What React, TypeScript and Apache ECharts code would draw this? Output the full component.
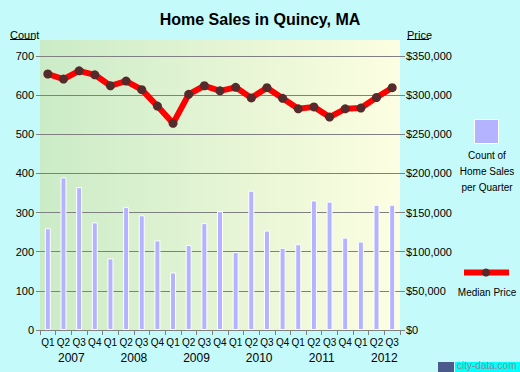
import React, { useEffect, useRef } from "react";
import * as echarts from "echarts";

const quarters = [
  "Q1", "Q2", "Q3", "Q4",
  "Q1", "Q2", "Q3", "Q4",
  "Q1", "Q2", "Q3", "Q4",
  "Q1", "Q2", "Q3", "Q4",
  "Q1", "Q2", "Q3", "Q4",
  "Q1", "Q2", "Q3",
];
const years = ["2007", "2008", "2009", "2010", "2011", "2012"];
const yearStartIndex = [0, 4, 8, 12, 16, 20];
const salesCount = [
  260, 390, 365, 275, 183, 314, 293, 229, 147, 217, 273, 304,
  199, 356, 254, 210, 219, 331, 328, 236, 226, 320, 320,
];
const medianPrice = [
  327000, 320500, 331000, 326000, 312000, 318000, 307000, 286000, 264000,
  301000, 312000, 305500, 310000, 296500, 309500, 296000, 282500, 285000,
  272000, 282500, 283500, 297000, 309500,
];
const countMax = 700;
const countInterval = 100;
const priceMax = 350000;
const priceInterval = 50000;

const FONT = "Liberation Sans, Arial, sans-serif";

export default function App() {
  const ref = useRef<HTMLDivElement>(null);
  useEffect(() => {
    document.body.style.margin = "0";
    if (!ref.current) return;
    const chart = echarts.init(ref.current, undefined, { renderer: "svg" });
    const yearCenters = yearStartIndex.map((s) => s + 2);
    chart.setOption({
      animation: false,
      backgroundColor: "#C4FAFA",
      textStyle: { fontFamily: FONT },
      title: {
        text: "Home Sales in Quincy, MA",
        left: "center",
        top: 6,
        textStyle: { fontSize: 16, fontWeight: "bold", color: "#000", fontFamily: FONT },
      },
      grid: { left: 40, right: 120, top: 56, bottom: 42, containLabel: false },
      xAxis: [
        {
          type: "category",
          data: quarters,
          boundaryGap: true,
          axisLine: { show: true, lineStyle: { color: "#808080", width: 1 } },
          axisTick: { show: true, length: 5, interval: 0, lineStyle: { color: "#808080" } },
          axisLabel: { interval: 0, fontSize: 10, color: "#000", margin: 7, fontFamily: FONT },
          splitLine: { show: false },
        },
        {
          type: "value",
          min: 0,
          max: quarters.length,
          position: "bottom",
          offset: 14,
          axisLine: { show: false },
          axisTick: { show: false },
          splitLine: { show: false },
          axisLabel: {
            customValues: yearCenters,
            fontSize: 12,
            color: "#000",
            margin: 8,
            fontFamily: FONT,
            formatter: (v: number) => {
              const i = yearCenters.indexOf(v);
              return i >= 0 ? years[i] : "";
            },
          },
        },
      ],
      yAxis: [
        {
          type: "value",
          min: 0,
          max: countMax,
          interval: countInterval,
          position: "left",
          axisLine: { show: false },
          axisTick: { show: true, length: 4, lineStyle: { color: "#808080" } },
          axisLabel: { fontSize: 11, color: "#000", margin: 6, fontFamily: FONT },
          splitLine: { show: true, lineStyle: { color: "#808080", width: 1 } },
        },
        {
          type: "value",
          min: 0,
          max: priceMax,
          interval: priceInterval,
          position: "right",
          axisLine: { show: false },
          axisTick: { show: true, length: 5, lineStyle: { color: "#808080" } },
          axisLabel: {
            fontSize: 11,
            color: "#000",
            margin: 6,
            fontFamily: FONT,
            formatter: (v: number) => "$" + v.toLocaleString("en-US"),
          },
          splitLine: { show: false },
        },
      ],
      series: [
        {
          type: "bar",
          data: salesCount,
          xAxisIndex: 0,
          yAxisIndex: 0,
          barWidth: 6,
          itemStyle: { color: "#B3B3FF", borderColor: "#FFFFFF", borderWidth: 1 },
          z: 2,
        },
        {
          type: "line",
          data: medianPrice,
          xAxisIndex: 0,
          yAxisIndex: 1,
          symbol: "circle",
          symbolSize: 9,
          lineStyle: { color: "#FF0000", width: 6 },
          itemStyle: { color: "#552A2A", borderWidth: 0 },
          z: 3,
        },
      ],
      graphic: [
        {
          type: "rect",
          z: -1,
          shape: { x: 40, y: 40, width: 360, height: 290 },
          style: {
            fill: new echarts.graphic.LinearGradient(0, 0, 1, 0, [
              { offset: 0, color: "#CBEBC7" },
              { offset: 1, color: "#FDFEE1" },
            ]),
          },
        },
        {
          type: "text",
          x: 10,
          y: 29,
          style: { text: "Count", fontSize: 11, fill: "#000", fontFamily: FONT },
        },
        { type: "line", shape: { x1: 10, y1: 39.5, x2: 35, y2: 39.5 }, style: { stroke: "#000", lineWidth: 1 } },
        {
          type: "text",
          x: 407,
          y: 29,
          style: { text: "Price", fontSize: 11, fill: "#000", fontFamily: FONT },
        },
        { type: "line", shape: { x1: 407, y1: 39.5, x2: 429, y2: 39.5 }, style: { stroke: "#000", lineWidth: 1 } },
        {
          type: "rect",
          shape: { x: 474.5, y: 119.5, width: 24, height: 24 },
          style: { fill: "#B3B3FF", stroke: "#FFFFFF", lineWidth: 1 },
        },
        {
          type: "text",
          x: 487,
          y: 147,
          style: {
            text: "Count of\nHome Sales\nper Quarter",
            fontSize: 10,
            lineHeight: 16,
            align: "center",
            fill: "#000",
            fontFamily: FONT,
          },
        },
        {
          type: "line",
          shape: { x1: 464, y1: 272.5, x2: 509, y2: 272.5 },
          style: { stroke: "#FF0000", lineWidth: 6 },
        },
        { type: "circle", shape: { cx: 486, cy: 272.5, r: 4 }, style: { fill: "#552A2A" } },
        {
          type: "text",
          x: 487,
          y: 287,
          style: { text: "Median Price", fontSize: 10, align: "center", fill: "#000", fontFamily: FONT },
        },
        { type: "rect", shape: { x: 438, y: 362, width: 16, height: 10 }, style: { fill: "#4A5A8A" } },
        { type: "rect", shape: { x: 455, y: 362, width: 65, height: 10 }, style: { fill: "#00FFFF" } },
        {
          type: "text",
          x: 457,
          y: 360,
          style: {
            text: "city-data.com",
            fontSize: 10,
            fill: "#8C8C8C",
            fontFamily: FONT,
          },
        },
      ],
    });
    return () => chart.dispose();
  }, []);
  return <div ref={ref} style={{ width: 520, height: 372 }} />;
}
